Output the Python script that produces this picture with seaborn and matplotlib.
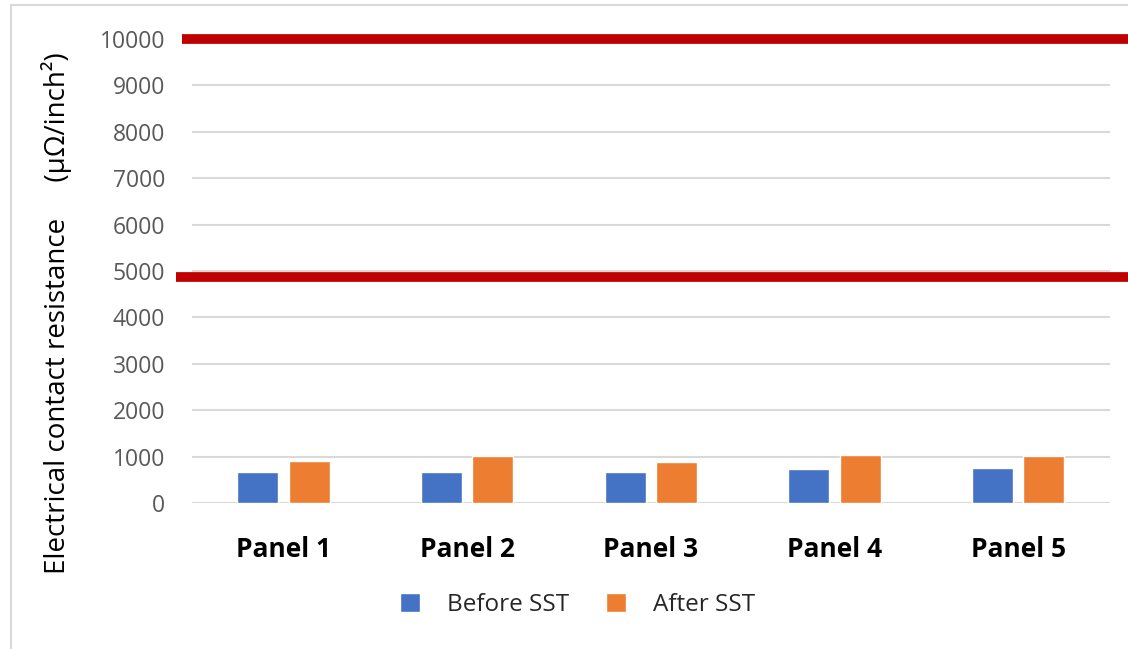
import numpy as np
import pandas as pd
import matplotlib
matplotlib.use("Agg")
import matplotlib.pyplot as plt
import seaborn as sns

# values
panels = ["Panel 1", "Panel 2", "Panel 3", "Panel 4", "Panel 5"]
before_sst = [668, 668, 668, 724, 754]
after_sst = [912, 1004, 884, 1034, 1004]
limit_lines = [9990, 4860]
y_ticks = [0, 1000, 2000, 3000, 4000, 5000, 6000, 7000, 8000, 9000, 10000]

df = pd.DataFrame({
    "panel": panels * 2,
    "value": before_sst + after_sst,
    "when": ["Before SST"] * len(panels) + ["After SST"] * len(panels),
})

sns.set_theme(style="white")
plt.rcParams["font.family"] = ["Open Sans", "DejaVu Sans"]

fig = plt.figure(figsize=(11.28, 6.49), dpi=100)
ax = fig.add_axes([0.170, 0.225, 0.814, 0.715])

palette = {"Before SST": "#4472C4", "After SST": "#ED7D31"}
sns.barplot(data=df, x="panel", y="value", hue="when", palette=palette,
            width=0.56, gap=0.2, ax=ax, saturation=1, legend=True, zorder=3)

ax.set_ylim(0, 10000)
ax.set_yticks(y_ticks)
ax.yaxis.grid(True, color="#d9d9d9", linewidth=1.5, zorder=0)
ax.set_axisbelow(True)
for s in ax.spines.values():
    s.set_visible(False)
ax.tick_params(axis="y", labelsize=16.5, labelcolor="#595959", length=0, pad=19)
ax.tick_params(axis="x", length=0, pad=24)
for lab in ax.get_xticklabels():
    lab.set_fontweight("bold")
    lab.set_fontsize(19)
    lab.set_color("black")
ax.set_xlabel("")
ax.set_ylabel("Electrical contact resistance     (\u00b5\u03a9/inch\u00b2)",
              fontsize=20, color="black")
ax.yaxis.set_label_coords(-0.130, 0.41)

# red limit lines overlaid beyond the plot area
for val, x0 in zip(limit_lines, [-0.011, -0.017]):
    ax.axhline(val, xmin=x0, xmax=1.03, color="#C00000", linewidth=7,
               solid_capstyle="butt", clip_on=False, zorder=5)

handles, labels = ax.get_legend_handles_labels()
ax.get_legend().remove()
fig.legend(handles, labels, loc="center", bbox_to_anchor=(0.512, 0.068),
           ncol=2, frameon=False, fontsize=17.5, handlelength=0.85,
           handleheight=0.85, columnspacing=1.5, handletextpad=1.1)

# chart border
fig.patches.append(plt.Rectangle((0.010, -0.01), 1.0, 1.002, transform=fig.transFigure,
                                 fill=False, edgecolor="#d9d9d9", linewidth=1.5))

fig.savefig("out.png", dpi=100)
